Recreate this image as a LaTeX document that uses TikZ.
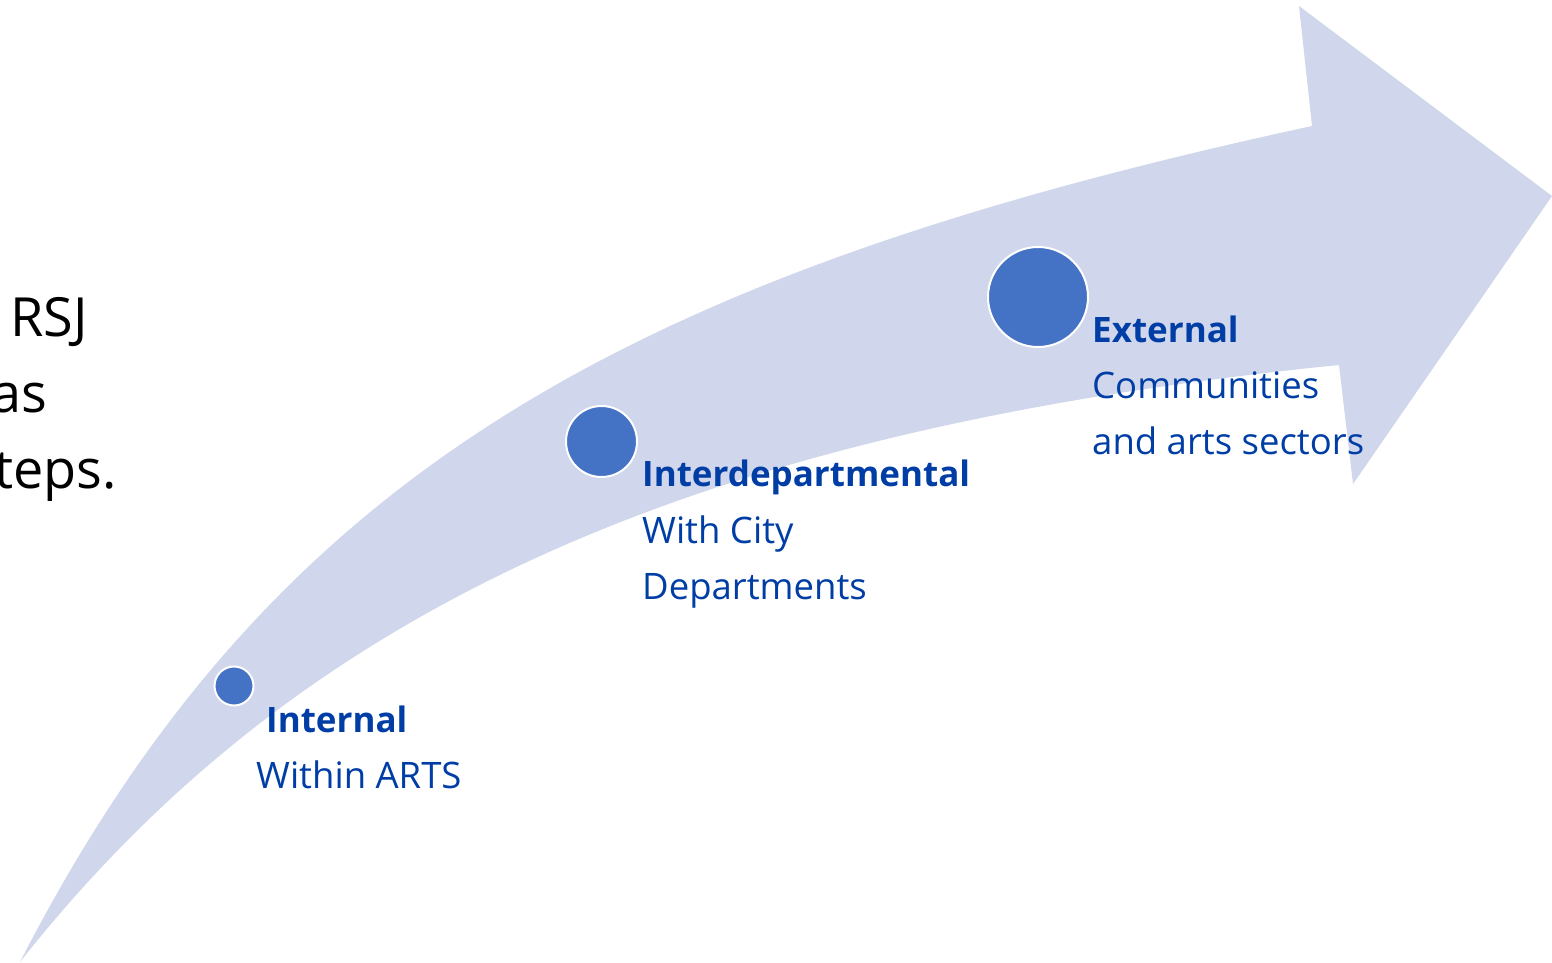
\documentclass[tikz,border=0pt]{standalone}
\usepackage{fontspec}
\setmainfont{Open Sans}
\definecolor{band}{HTML}{D0D6EB}
\definecolor{dotblue}{HTML}{4472C4}
\definecolor{txtblue}{HTML}{003DA5}
\begin{document}
\begin{tikzpicture}[x=1pt,y=-1pt,
  dotc/.style={circle, fill=dotblue, draw=white, line width=2pt, inner sep=0pt},
  lab/.style={anchor=base west, inner sep=0pt, text=txtblue, font=\fontsize{36.5}{42}\selectfont},
  labb/.style={lab, font=\fontsize{35}{42}\selectfont\bfseries},
  side/.style={anchor=base east, inner sep=0pt, text=black, font=\fontsize{54}{60}\selectfont}]
\useasboundingbox (0,0) rectangle (1552,963);
\clip (0,0) rectangle (1552,963);
% curved arrow
\fill[band] (20,962) .. controls (271,473) and (628,274) .. (1312,126)
  -- (1299,6) -- (1552,196) -- (1353,484) -- (1339,365)
  .. controls (692,430) and (299,608.7) .. (20,962) -- cycle;
% side text (clipped at the left edge)
\node[side] (s1) at (88,336) {RSJ};
\node[side] (s2) at (47,412) {as};
\node[side] (s3) at (117,488) {teps.};
% dots
\node[dotc, minimum size=39pt] (c1) at (234,686) {};
\node[dotc, minimum size=71pt] (c2) at (601.5,441.5) {};
\node[dotc, minimum size=100pt] (c3) at (1038,297) {};
% labels
\node[labb] (l1a) at (266,732) {Internal};
\node[lab] (l1b) at (256,788) {Within ARTS};
\node[labb] (l2a) at (642,486) {Interdepartmental};
\node[lab] (l2b) at (642,543) {With City};
\node[lab] (l2c) at (642,599) {Departments};
\node[labb] (l3a) at (1092,342) {External};
\node[lab] (l3b) at (1092,398) {Communities};
\node[lab] (l3c) at (1092,454) {and arts sectors};
\end{tikzpicture}
\end{document}
